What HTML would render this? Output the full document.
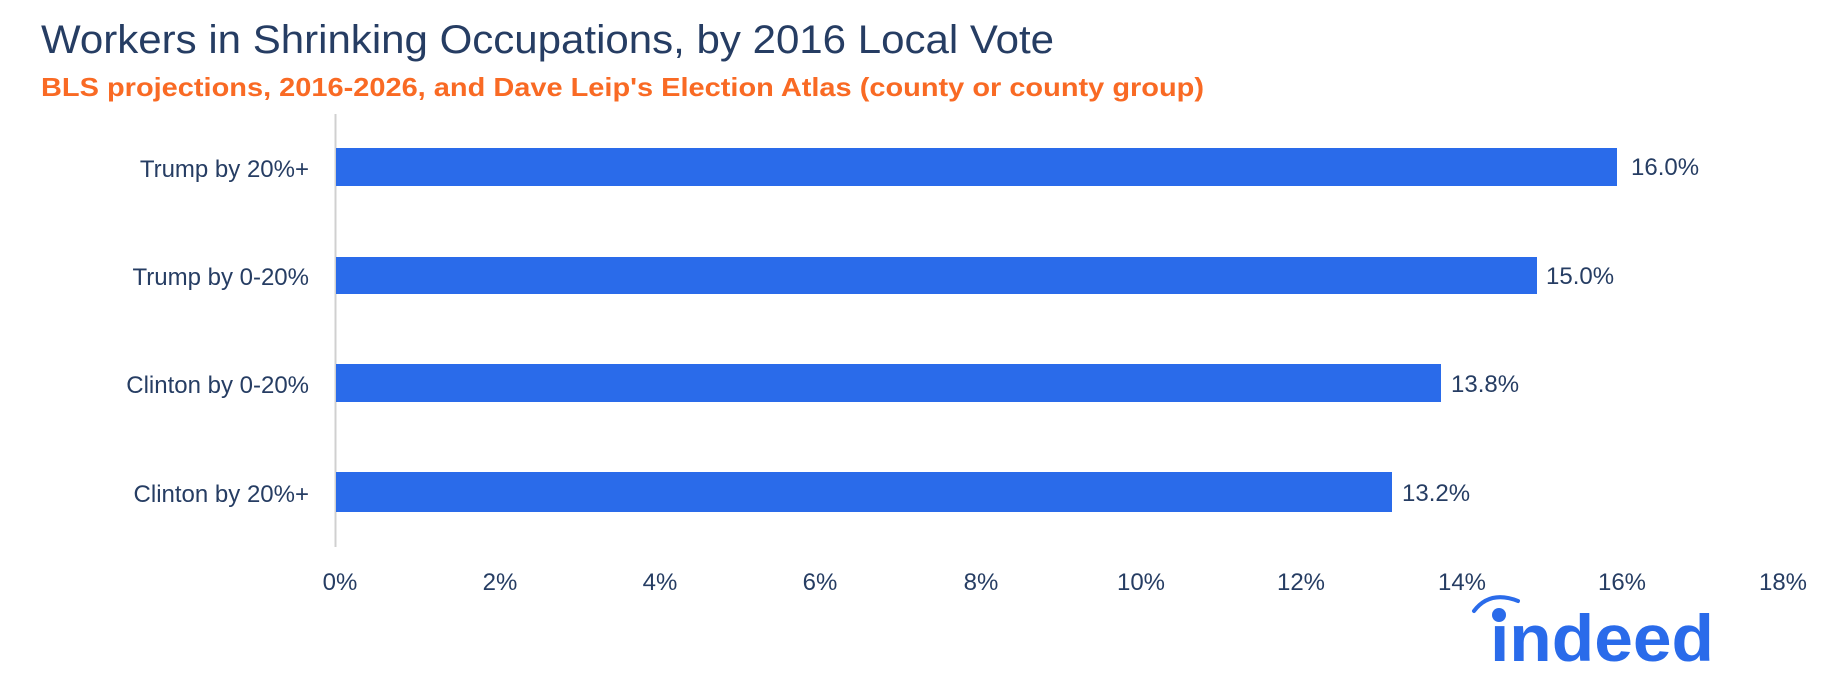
<!DOCTYPE html>
<html><head><meta charset="utf-8"><style>
html,body{margin:0;padding:0;background:#fff;}
svg{display:block;}
</style></head><body>
<svg width="1826" height="680" xmlns="http://www.w3.org/2000/svg" font-family="Liberation Sans, sans-serif">
<text x="41" y="53" font-size="40" fill="#263d63" textLength="1013" lengthAdjust="spacingAndGlyphs">Workers in Shrinking Occupations, by 2016 Local Vote</text>
<text x="41" y="96" font-size="26" font-weight="bold" fill="#f96a24" textLength="1163" lengthAdjust="spacingAndGlyphs">BLS projections, 2016-2026, and Dave Leip's Election Atlas (county or county group)</text>
<line x1="335.5" y1="114" x2="335.5" y2="547" stroke="#d0d0d0" stroke-width="2"/>
<g fill="#2a6bea">
<rect x="336" y="148" width="1281" height="38"/>
<rect x="336" y="257" width="1201" height="37"/>
<rect x="336" y="364" width="1105" height="38"/>
<rect x="336" y="472" width="1056" height="40"/>
</g>
<g font-size="24" fill="#263d63" text-anchor="end">
<text x="309" y="177">Trump by 20%+</text>
<text x="309" y="285">Trump by 0-20%</text>
<text x="309" y="393">Clinton by 0-20%</text>
<text x="309" y="502">Clinton by 20%+</text>
</g>
<g font-size="24" fill="#263d63">
<text x="1631" y="175">16.0%</text>
<text x="1546" y="284">15.0%</text>
<text x="1451" y="392">13.8%</text>
<text x="1402" y="501">13.2%</text>
</g>
<g font-size="24" fill="#263d63" text-anchor="middle">
<text x="340" y="590">0%</text>
<text x="500" y="590">2%</text>
<text x="660" y="590">4%</text>
<text x="820" y="590">6%</text>
<text x="981" y="590">8%</text>
<text x="1141" y="590">10%</text>
<text x="1301" y="590">12%</text>
<text x="1462" y="590">14%</text>
<text x="1622" y="590">16%</text>
<text x="1783" y="590">18%</text>
</g>
<path d="M1474 611 Q1490 590 1518 601" stroke="#2a6bea" stroke-width="4" fill="none" stroke-linecap="round"/>
<text x="1490" y="661" font-size="66" font-weight="bold" fill="#2a6bea" textLength="224" lengthAdjust="spacingAndGlyphs">ındeed</text>
<circle cx="1499" cy="615" r="7" fill="#2a6bea"/>
</svg>
</body></html>
